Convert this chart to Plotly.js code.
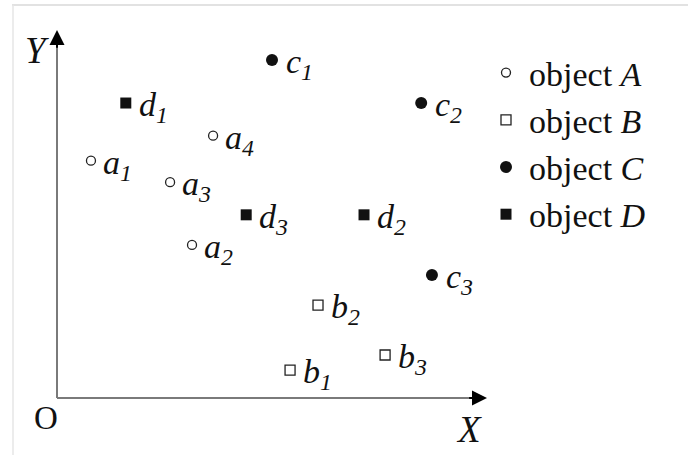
<!DOCTYPE html>
<html>
<head>
<meta charset="utf-8">
<script src="https://cdn.plot.ly/plotly-3.0.1.min.js"></script>
<style>
  html, body { margin: 0; padding: 0; background: #fff; }
  #chart { width: 688px; height: 455px; }
</style>
</head>
<body>
<div id="chart"></div>
<script>
// Object positions in the X–Y plane (origin O at the corner of the axes)
const seriesNames = ['object <i>A</i>', 'object <i>B</i>', 'object <i>C</i>', 'object <i>D</i>'];
const seriesLetters = ['a', 'b', 'c', 'd'];

const aX = [0.79, 3.14, 2.63, 3.63];
const aY = [5.52, 3.56, 5.02, 6.10];

const bX = [5.42, 6.07, 7.63];
const bY = [0.65, 2.16, 1.00];

const cX = [5.00, 8.47, 8.72];
const cY = [7.86, 6.86, 2.86];

const dX = [1.60, 7.14, 4.40];
const dY = [6.86, 4.26, 4.26];

// Axis extents (arrow tips)
const xAxisEnd = 10;
const yAxisEnd = 8.56;

const FONT = 'Liberation Serif';
const INK = '#111';

const xs = [aX, bX, cX, dX];
const ys = [aY, bY, cY, dY];

const markerStyles = [
  { symbol: 'circle-open', size: 9, color: '#222', line: { width: 1.3, color: '#222' } },
  { symbol: 'square-open', size: 10, color: '#222', line: { width: 1.3, color: '#222' } },
  { symbol: 'circle', size: 12, color: INK },
  { symbol: 'square', size: 11, color: INK }
];
// gap between a marker's centre and its label
const labelShift = [10, 11, 12, 11];

const traces = xs.map((x, i) => ({
  type: 'scatter',
  mode: 'markers',
  name: seriesNames[i],
  x: x,
  y: ys[i],
  marker: markerStyles[i],
  hoverinfo: 'skip'
}));

// Point labels such as a₁, b₂ ... placed just right of each marker
const annotations = [];
xs.forEach((x, i) => {
  x.forEach((xv, j) => {
    annotations.push({
      x: xv, y: ys[i][j], xref: 'x', yref: 'y',
      text: '<i>' + seriesLetters[i] + '<sub>' + (j + 1) + '</sub></i>',
      showarrow: false, xanchor: 'left', yanchor: 'middle',
      xshift: labelShift[i], yshift: -4,
      font: { family: FONT, size: 34, color: INK }
    });
  });
});

// Arrowheads on both axes
annotations.push({
  x: xAxisEnd, y: 0, ax: xAxisEnd - 0.45, ay: 0,
  xref: 'x', yref: 'y', axref: 'x', ayref: 'y',
  text: '', showarrow: true, arrowhead: 2, arrowsize: 1.5, arrowwidth: 2, arrowcolor: '#000'
});
annotations.push({
  x: 0, y: yAxisEnd, ax: 0, ay: yAxisEnd - 0.45,
  xref: 'x', yref: 'y', axref: 'x', ayref: 'y',
  text: '', showarrow: true, arrowhead: 2, arrowsize: 1.5, arrowwidth: 2, arrowcolor: '#000'
});

// Axis names and origin
annotations.push({
  x: 0, y: yAxisEnd, xref: 'x', yref: 'y', text: '<i>Y</i>', showarrow: false,
  xanchor: 'right', yanchor: 'middle', xshift: -6, yshift: -21,
  font: { family: FONT, size: 37, color: INK }
});
annotations.push({
  x: xAxisEnd, y: 0, xref: 'x', yref: 'y', text: '<i>X</i>', showarrow: false,
  xanchor: 'center', yanchor: 'top', xshift: -18, yshift: -9,
  font: { family: FONT, size: 37, color: INK }
});
annotations.push({
  x: 0, y: 0, xref: 'x', yref: 'y', text: 'O', showarrow: false,
  xanchor: 'right', yanchor: 'top', xshift: 3, yshift: 0,
  font: { family: FONT, size: 33, color: INK }
});

const shapes = [
  // axis shafts
  { type: 'line', xref: 'x', yref: 'y', x0: 0, y0: 0, x1: xAxisEnd - 0.2, y1: 0,
    line: { color: '#7a7a7a', width: 2 } },
  { type: 'line', xref: 'x', yref: 'y', x0: 0, y0: 0, x1: 0, y1: yAxisEnd - 0.2,
    line: { color: '#7a7a7a', width: 2 } },
  // thin frame around the figure
  { type: 'line', xref: 'paper', yref: 'paper', x0: 12 / 688, y0: 1 - 5 / 455, x1: 1, y1: 1 - 5 / 455,
    line: { color: '#e2e2e2', width: 2 } },
  { type: 'line', xref: 'paper', yref: 'paper', x0: 13 / 688, y0: 1 - 5 / 455, x1: 13 / 688, y1: 0,
    line: { color: '#e6e6e6', width: 1.5 } }
];

const layout = {
  width: 688, height: 455,
  margin: { l: 0, r: 0, t: 0, b: 0 },
  paper_bgcolor: '#fff', plot_bgcolor: '#fff',
  font: { family: FONT },
  showlegend: true,
  legend: {
    x: 483 / 688, y: 1 - 44 / 455, xanchor: 'left', yanchor: 'top',
    font: { family: FONT, size: 34, color: INK },
    bgcolor: 'rgba(0,0,0,0)', itemclick: false, itemdoubleclick: false,
    itemwidth: 36, tracegroupgap: 0
  },
  xaxis: { range: [-57 / 43, 631 / 43], visible: false, fixedrange: true },
  yaxis: { range: [-57 / 43, 398 / 43], visible: false, fixedrange: true },
  annotations: annotations,
  shapes: shapes
};

Plotly.newPlot('chart', traces, layout, { staticPlot: true, displayModeBar: false });
</script>
</body>
</html>
